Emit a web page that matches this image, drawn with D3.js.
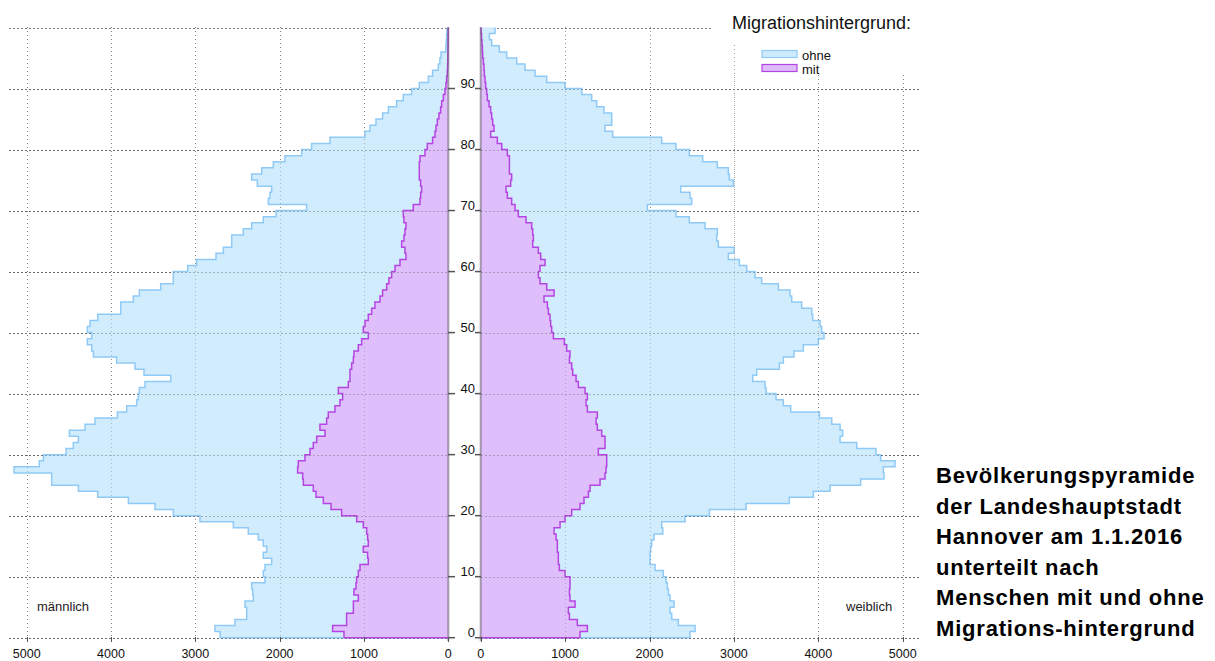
<!DOCTYPE html>
<html>
<head>
<meta charset="utf-8">
<script src="https://cdn.jsdelivr.net/npm/d3@7"></script>
<style>
  html, body { margin: 0; padding: 0; background: #fff; }
  svg { display: block; font-family: "Liberation Sans", Arial, Helvetica, sans-serif; }
</style>
</head>
<body>
<svg id="chart" width="1215" height="661"></svg>
<script>
// Ages 0..99 (top edge of chart = 100)
const ages = d3.range(0, 100);

// Männer: Gesamt (äußere Kontur = ohne + mit) und mit Migrationshintergrund
const maleGesamt = [2707,2767,2530,2391,2391,2411,2312,2320,2332,2174,
  2194,2174,2095,2194,2154,2194,2253,2372,2549,2945,
  3261,3478,3794,4158,4387,4704,4704,5150,4850,4802,
  4534,4447,4387,4494,4308,4190,3925,3814,3696,3676,
  3664,3597,3292,3609,3715,3933,4209,4229,4281,4229,
  4281,4249,4158,3885,3885,3735,3664,3411,3261,3261,
  3091,2984,2755,2668,2569,2569,2431,2332,2194,2043,
  1680,2134,2115,2095,2265,2332,2213,2075,1937,1739,
  1621,1403,988,928,858,779,711,613,534,435,
  344,237,186,119,100,87,30,25,20,15];
const maleMit = [1237,1372,1206,1206,1126,1126,1067,1119,1095,1087,
  1067,1047,949,957,1008,949,957,968,1008,1087,
  1265,1391,1482,1569,1601,1719,1727,1787,1779,1700,
  1640,1601,1561,1462,1522,1443,1423,1344,1285,1253,
  1304,1186,1166,1166,1146,1126,1119,1067,1028,949,
  1008,988,949,909,870,810,779,731,704,672,
  632,573,502,514,553,526,514,502,526,534,
  415,336,328,316,328,344,344,344,336,277,
  249,186,158,146,130,111,91,79,59,40,
  28,20,12,8,6,5,4,3,2,1];

// Frauen
const femaleGesamt = [2480,2540,2342,2263,2243,2291,2243,2224,2212,2196,
  2164,2066,2006,2006,2014,2026,2054,2157,2145,2421,
  2709,3144,3657,3942,4139,4502,4779,4771,4909,4739,
  4684,4455,4258,4289,4258,4159,4013,3673,3586,3499,
  3381,3369,3223,3270,3539,3586,3712,3823,4001,4068,
  4040,4021,3934,3922,3803,3685,3665,3527,3329,3250,
  3152,3065,2934,3002,2816,2796,2804,2658,2472,2314,
  1975,2500,2480,2370,2994,2946,2934,2804,2630,2472,
  2314,2145,1564,1473,1552,1552,1461,1374,1315,1197,
  999,782,644,525,427,308,221,130,103,170];
const femaleMit = [1177,1264,1145,1051,1039,1118,1058,1051,1058,1058,
  999,932,920,920,908,908,893,869,940,999,
  1078,1177,1224,1276,1295,1414,1473,1485,1493,1493,
  1394,1473,1473,1434,1382,1367,1382,1264,1248,1264,
  1236,1157,1130,1090,1078,1051,1058,1019,991,861,
  841,829,821,802,790,750,869,782,703,683,
  703,762,711,683,616,624,616,604,537,446,
  407,367,316,300,355,367,340,340,340,316,
  249,197,118,158,142,130,118,99,79,71,
  59,51,43,39,32,24,20,15,10,5];

const valueTicks = [0, 1000, 2000, 3000, 4000, 5000];
const ageTicks = [0, 10, 20, 30, 40, 50, 60, 70, 80, 90];
const legendLabels = ["ohne", "mit"];
const titleLines = ["Bevölkerungspyramide", "der Landeshauptstadt", "Hannover am 1.1.2016",
  "unterteilt nach", "Menschen mit und ohne", "Migrations-hintergrund"];

const colors = {
  ohneFill: "#cdeafd", ohneStroke: "#8fcaf6",
  mitFill: "#dfbbfb", mitStroke: "#b545e2"
};

const svg = d3.select("#chart");

const y = d3.scaleLinear().domain([0, 100]).range([637.7, 27.5]);
const xL = d3.scaleLinear().domain([0, 5000]).range([448.3, 26.7]);
const xR = d3.scaleLinear().domain([0, 5000]).range([480.7, 902.7]);

// ---------- grid ----------
const grid = svg.append("g");
function hGrid(x1, x2, ages_, dash) {
  grid.selectAll(null).data(ages_).enter().append("line")
    .attr("x1", x1).attr("x2", x2)
    .attr("y1", d => Math.round(y(d)) + 0.5).attr("y2", d => Math.round(y(d)) + 0.5)
    .attr("stroke", "#777").attr("stroke-width", 1).attr("stroke-dasharray", dash);
}
hGrid(9, 448, d3.range(0, 101, 10), "2,2");
hGrid(481, 919, d3.range(0, 100, 10), "2,2");
hGrid(481, 712, [100], "2,2");
function vGrid(scale, vals, top) {
  grid.selectAll(null).data(vals).enter().append("line")
    .attr("x1", d => Math.round(scale(d)) + 0.5).attr("x2", d => Math.round(scale(d)) + 0.5)
    .attr("y1", top).attr("y2", 641)
    .attr("stroke", "#999").attr("stroke-width", 1).attr("stroke-dasharray", "1,3");
}
vGrid(xL, [1000, 2000, 3000, 4000, 5000], 27);
vGrid(xR, [1000, 2000], 27);
vGrid(xR, [3000], 45);
vGrid(xR, [4000, 5000], 75);

// ---------- areas ----------
function stepData(vals) {
  return ages.flatMap(a => [{ age: a, v: vals[a] }, { age: a + 1, v: vals[a] }]);
}
function drawArea(scale, vals, fill, stroke) {
  const area = d3.area().y(d => y(d.age)).x0(scale(0)).x1(d => scale(d.v));
  const line = d3.line().y(d => y(d.age)).x(d => scale(d.v));
  const data = stepData(vals);
  svg.append("path").datum(data).attr("d", area).attr("fill", fill).attr("fill-opacity", 0.92);
  svg.append("path").datum(data).attr("d", line).attr("fill", "none")
    .attr("stroke", stroke).attr("stroke-width", 1.5);
  svg.append("line").attr("x1", scale(0)).attr("x2", scale(vals[0]))
    .attr("y1", y(0)).attr("y2", y(0)).attr("stroke", stroke).attr("stroke-width", 1.5);
}
drawArea(xL, maleGesamt, colors.ohneFill, colors.ohneStroke);
drawArea(xL, maleMit, colors.mitFill, colors.mitStroke);
drawArea(xR, femaleGesamt, colors.ohneFill, colors.ohneStroke);
drawArea(xR, femaleMit, colors.mitFill, colors.mitStroke);

// grid over areas (faint)
const grid2 = svg.append("g").attr("opacity", 0.35);
grid2.selectAll(null).data(d3.range(0, 100, 10)).enter().append("line")
  .attr("x1", 9).attr("x2", 448).attr("y1", d => Math.round(y(d)) + 0.5).attr("y2", d => Math.round(y(d)) + 0.5)
  .attr("stroke", "#555").attr("stroke-dasharray", "2,2");
grid2.selectAll(null).data(d3.range(0, 100, 10)).enter().append("line")
  .attr("x1", 481).attr("x2", 919).attr("y1", d => Math.round(y(d)) + 0.5).attr("y2", d => Math.round(y(d)) + 0.5)
  .attr("stroke", "#555").attr("stroke-dasharray", "2,2");
grid2.selectAll(null).data([1000, 2000, 3000, 4000, 5000]).enter().append("line")
  .attr("x1", d => Math.round(xL(d)) + 0.5).attr("x2", d => Math.round(xL(d)) + 0.5)
  .attr("y1", 27).attr("y2", 641).attr("stroke", "#666").attr("stroke-dasharray", "1,3");
grid2.selectAll(null).data([1000, 2000, 3000, 4000, 5000]).enter().append("line")
  .attr("x1", d => Math.round(xR(d)) + 0.5).attr("x2", d => Math.round(xR(d)) + 0.5)
  .attr("y1", 75).attr("y2", 641).attr("stroke", "#666").attr("stroke-dasharray", "1,3");

// ---------- axis lines ----------
svg.append("line").attr("x1", xL(0)).attr("x2", xL(0)).attr("y1", 27).attr("y2", 641)
  .attr("stroke", "#6a5a70").attr("stroke-opacity", 0.55).attr("stroke-width", 2);
svg.append("line").attr("x1", xR(0)).attr("x2", xR(0)).attr("y1", 27).attr("y2", 641)
  .attr("stroke", "#6a5a70").attr("stroke-opacity", 0.55).attr("stroke-width", 2);

// age ticks + labels in the middle
const mid = svg.append("g");
mid.selectAll(null).data(ageTicks).enter().append("line")
  .attr("x1", 448).attr("x2", 455).attr("y1", d => y(d)).attr("y2", d => y(d))
  .attr("stroke", "#555").attr("stroke-width", 1.5);
mid.selectAll(null).data(ageTicks).enter().append("line")
  .attr("x1", 475).attr("x2", 481).attr("y1", d => y(d)).attr("y2", d => y(d))
  .attr("stroke", "#555").attr("stroke-width", 1.5);
mid.selectAll(null).data(ageTicks).enter().append("text")
  .attr("x", 475).attr("y", d => y(d) - 0.5)
  .attr("text-anchor", "end").attr("font-size", 13).attr("fill", "#111")
  .text(d => d);

// value ticks + labels
function valueAxis(scale) {
  const g = svg.append("g");
  g.selectAll(null).data(valueTicks).enter().append("line")
    .attr("x1", d => Math.round(scale(d)) + 0.5).attr("x2", d => Math.round(scale(d)) + 0.5)
    .attr("y1", 637).attr("y2", 642).attr("stroke", "#555");
  g.selectAll(null).data(valueTicks).enter().append("text")
    .attr("x", d => scale(d)).attr("y", 657.5)
    .attr("text-anchor", "middle").attr("font-size", 12.5).attr("fill", "#111")
    .text(d => d);
}
valueAxis(xL);
valueAxis(xR);

// ---------- legend ----------
svg.append("rect").attr("x", 712).attr("y", 0).attr("width", 210).attr("height", 44).attr("fill", "#fff");
svg.append("rect").attr("x", 745).attr("y", 44).attr("width", 177).attr("height", 30).attr("fill", "#fff");
svg.append("text").attr("x", 732).attr("y", 29).attr("font-size", 18).attr("fill", "#111")
  .text("Migrationshintergrund:");
const leg = svg.append("g");
const legFill = [colors.ohneFill, colors.mitFill];
const legStroke = [colors.ohneStroke, colors.mitStroke];
legendLabels.forEach((lab, i) => {
  leg.append("rect").attr("x", 762).attr("y", 50.5 + i * 14).attr("width", 35).attr("height", 7)
    .attr("fill", legFill[i]).attr("stroke", legStroke[i]).attr("stroke-width", 1.2);
  leg.append("text").attr("x", 802).attr("y", 60 + i * 14).attr("font-size", 13).attr("fill", "#111").text(lab);
});

// ---------- side labels ----------
svg.append("text").attr("x", 37).attr("y", 611).attr("font-size", 13).attr("fill", "#222").text("männlich");
svg.append("text").attr("x", 846).attr("y", 611).attr("font-size", 13).attr("fill", "#222").text("weiblich");

// ---------- title ----------
svg.append("g").selectAll("text").data(titleLines).enter().append("text")
  .attr("x", 936).attr("y", (d, i) => 483 + i * 30.5)
  .attr("font-size", 22).attr("font-weight", "bold").attr("letter-spacing", "0.8px")
  .attr("fill", "#000").text(d => d);
</script>
</body>
</html>
